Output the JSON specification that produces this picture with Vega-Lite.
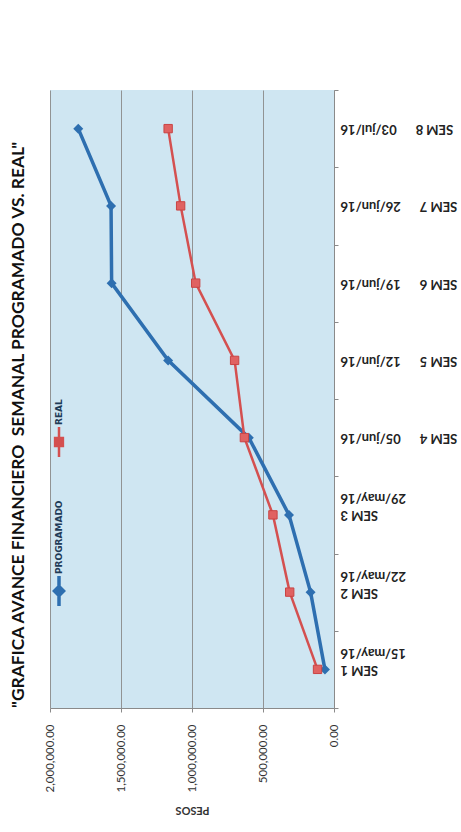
{
  "$schema": "https://vega.github.io/schema/vega-lite/v6.json",
  "width": 284,
  "height": 618,
  "autosize": {"type": "none"},
  "padding": {"left": 50, "top": 90, "right": 127, "bottom": 124},
  "background": "white",
  "title": {
    "text": "\"GRAFICA AVANCE FINANCIERO\u00a0 SEMANAL PROGRAMADO VS. REAL\"",
    "orient": "left",
    "anchor": "start",
    "frame": "group",
    "offset": 17,
    "font": "Lato",
    "fontSize": 17.4,
    "fontWeight": "bold",
    "color": "#111111"
  },
  "data": {
    "values": [
      {"n": 1, "sem": "SEM 1\u00a0\u00a0\u00a0\u00a0\u00a0\u00a0|15/may/16", "serie": "PROGRAMADO", "valor": 64000},
      {"n": 2, "sem": "SEM 2\u00a0\u00a0\u00a0\u00a0\u00a0\u00a0|22/may/16", "serie": "PROGRAMADO", "valor": 165000},
      {"n": 3, "sem": "SEM 3\u00a0\u00a0\u00a0\u00a0\u00a0\u00a0|29/may/16", "serie": "PROGRAMADO", "valor": 317000},
      {"n": 4, "sem": "SEM 4\u00a0\u00a0\u00a0\u00a0\u00a0\u00a005/jun/16", "serie": "PROGRAMADO", "valor": 600000},
      {"n": 5, "sem": "SEM 5\u00a0\u00a0\u00a0\u00a0\u00a0\u00a012/jun/16", "serie": "PROGRAMADO", "valor": 1168000},
      {"n": 6, "sem": "SEM 6\u00a0\u00a0\u00a0\u00a0\u00a0\u00a019/jun/16", "serie": "PROGRAMADO", "valor": 1566000},
      {"n": 7, "sem": "SEM 7\u00a0\u00a0\u00a0\u00a0\u00a0\u00a026/jun/16", "serie": "PROGRAMADO", "valor": 1570000},
      {"n": 8, "sem": "SEM 8\u00a0\u00a0\u00a0\u00a0\u00a0\u00a003/jul/16", "serie": "PROGRAMADO", "valor": 1801000},
      {"n": 1, "sem": "SEM 1\u00a0\u00a0\u00a0\u00a0\u00a0\u00a0|15/may/16", "serie": "REAL", "valor": 116000},
      {"n": 2, "sem": "SEM 2\u00a0\u00a0\u00a0\u00a0\u00a0\u00a0|22/may/16", "serie": "REAL", "valor": 312000},
      {"n": 3, "sem": "SEM 3\u00a0\u00a0\u00a0\u00a0\u00a0\u00a0|29/may/16", "serie": "REAL", "valor": 430000},
      {"n": 4, "sem": "SEM 4\u00a0\u00a0\u00a0\u00a0\u00a0\u00a005/jun/16", "serie": "REAL", "valor": 631000},
      {"n": 5, "sem": "SEM 5\u00a0\u00a0\u00a0\u00a0\u00a0\u00a012/jun/16", "serie": "REAL", "valor": 700000},
      {"n": 6, "sem": "SEM 6\u00a0\u00a0\u00a0\u00a0\u00a0\u00a019/jun/16", "serie": "REAL", "valor": 974000},
      {"n": 7, "sem": "SEM 7\u00a0\u00a0\u00a0\u00a0\u00a0\u00a026/jun/16", "serie": "REAL", "valor": 1080000},
      {"n": 8, "sem": "SEM 8\u00a0\u00a0\u00a0\u00a0\u00a0\u00a003/jul/16", "serie": "REAL", "valor": 1168000}
    ]
  },
  "encoding": {
    "x": {
      "field": "valor",
      "type": "quantitative",
      "scale": {"domain": [0, 2000000], "reverse": true, "nice": false, "zero": true},
      "axis": {
        "values": [0, 500000, 1000000, 1500000, 2000000],
        "format": ",.2f",
        "labelAngle": 270,
        "labelFont": "Lato",
        "labelFontSize": 11.5,
        "labelColor": "#333333",
        "labelPadding": 12,
        "tickSize": 4,
        "tickColor": "#8a8a8a",
        "domainColor": "#8a8a8a",
        "grid": true,
        "gridColor": "#8a8a8a",
        "gridOpacity": 0.9,
        "title": "PESOS",
        "titleAngle": 180,
        "titleFont": "Lato",
        "titleFontSize": 11,
        "titleFontWeight": "bold",
        "titleColor": "#333333",
        "titlePadding": 24
      }
    },
    "y": {
      "field": "sem",
      "type": "nominal",
      "sort": {"field": "n", "op": "min", "order": "descending"},
      "scale": {"type": "band", "paddingInner": 0, "paddingOuter": 0},
      "axis": {
        "orient": "right",
        "title": null,
        "grid": false,
        "labelExpr": "split(datum.label, '|')",
        "labelAngle": 180,
        "labelAlign": "right",
        "labelBaseline": "middle",
        "labelFont": "Lato",
        "labelFontSize": 13,
        "labelFontWeight": "bold",
        "labelColor": "#222222",
        "labelLineHeight": 17,
        "labelPadding": 2,
        "labelLimit": 200,
        "tickBand": "extent",
        "tickSize": 4,
        "tickColor": "#8a8a8a",
        "domainColor": "#8a8a8a"
      }
    }
  },
  "layer": [
    {
      "mark": {"type": "line"},
      "encoding": {
        "color": {
          "field": "serie",
          "type": "nominal",
          "scale": {"domain": ["REAL", "PROGRAMADO"], "range": ["#d45050", "#2e6fb0"]},
          "legend": {
            "title": null,
            "orient": "none",
            "legendX": 4,
            "legendY": 352,
            "direction": "vertical",
            "rowPadding": 38,
            "symbolType": "M0,-1L0,1M-0.3,0L0,-0.3L0.3,0L0,0.3Z",
            "symbolSize": 900,
            "symbolStrokeWidth": 2.5,
            "labelFont": "DejaVu Sans",
            "labelFontSize": 9,
            "labelFontWeight": "bold",
            "labelColor": "#1f3b57",
            "encode": {
              "symbols": {
                "update": {
                  "shape": {"signal": "datum.value === 'REAL' ? 'M0,-1L0,1M-0.26,-0.26L0.26,-0.26L0.26,0.26L-0.26,0.26Z' : 'M0,-1L0,1M-0.3,0L0,-0.3L0.3,0L0,0.3Z'"},
                  "fill": {"signal": "scale('color', datum.value)"},
                  "stroke": {"signal": "scale('color', datum.value)"},
                  "strokeWidth": {"value": 2.5},
                  "size": {"value": 900},
                  "x": {"value": 5},
                  "y": {"value": 0}
                }
              },
              "labels": {
                "update": {
                  "angle": {"value": 270},
                  "align": {"value": "left"},
                  "baseline": {"value": "middle"},
                  "x": {"value": 5},
                  "y": {"value": -17}
                }
              }
            }
          }
        },
        "strokeWidth": {
          "field": "serie",
          "type": "nominal",
          "scale": {"domain": ["REAL", "PROGRAMADO"], "range": [2.5, 3.5]},
          "legend": null
        }
      }
    },
    {
      "transform": [{"filter": "datum.serie === 'PROGRAMADO'"}],
      "mark": {"type": "point", "shape": "diamond", "filled": true, "opacity": 1, "size": 100, "fill": "#2e6fb0"}
    },
    {
      "transform": [{"filter": "datum.serie === 'REAL'"}],
      "mark": {"type": "point", "shape": "square", "filled": true, "opacity": 1, "size": 70, "fill": "#e06262", "stroke": "#c94444", "strokeWidth": 1}
    }
  ],
  "config": {
    "view": {"fill": "#cfe6f2", "stroke": null},
    "font": "Lato"
  }
}
